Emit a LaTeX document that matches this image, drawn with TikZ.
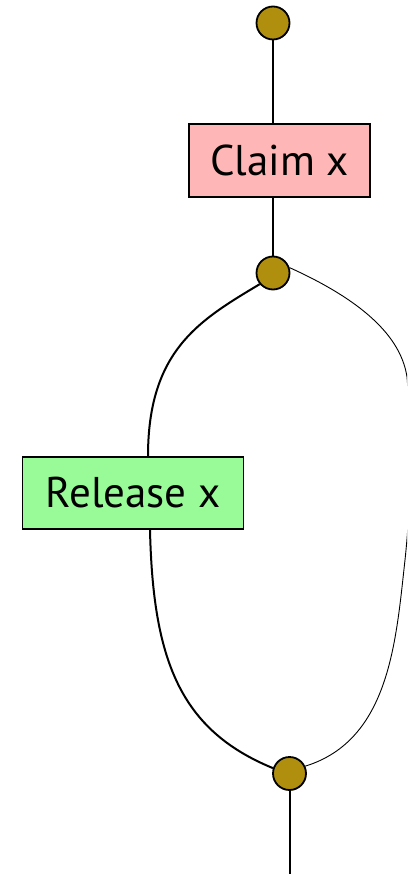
\documentclass[tikz,border=0pt]{standalone}
\usepackage{fontspec}
\setmainfont{PT Sans}
\definecolor{dotfill}{RGB}{176,142,14}
\definecolor{claimfill}{RGB}{255,182,182}
\definecolor{releasefill}{RGB}{152,251,152}
\begin{document}
\begin{tikzpicture}[x=1pt,y=-1pt,
  dot/.style={circle,draw=black,line width=1.8pt,fill=dotfill,minimum size=33pt,inner sep=0pt},
  opbox/.style={draw=black,line width=1.8pt,inner sep=0pt,font=\fontsize{43}{49}\selectfont},
  wire/.style={line width=2pt},
  thinwire/.style={line width=0.9pt}]
\useasboundingbox (0,0) rectangle (407,874);
\clip (0,0) rectangle (407,874);
% junctions and operations
\node[dot] (top) at (273,23) {};
\node[opbox,fill=claimfill,minimum width=181pt,minimum height=73pt] (claim) at (279.5,160.5) {Claim x};
\node[dot] (mid) at (273,273) {};
\node[opbox,fill=releasefill,minimum width=221pt,minimum height=72pt] (rel) at (133,493) {Release x};
\node[dot] (bot) at (289.5,773.5) {};
\coordinate (out) at (289.5,874);
% straight wires
\draw[wire] (top) -- (top |- claim.north);
\draw[wire] (mid |- claim.south) -- (mid);
\draw[wire] (bot) -- (out);
% left branch through the release
\draw[wire] (mid.220) .. controls (200,320) and (148,350) .. ([xshift=15pt]rel.north);
\draw[wire] ([xshift=17pt]rel.south) .. controls (153,660) and (180,730) .. (bot.162);
% right bypass branch
\draw[thinwire] (mid.18) .. controls (350,295) and (400,330) .. (407,377)
  .. controls (412,438) and (411,504) .. (405,560)
  .. controls (396,640) and (390,740) .. (bot.25);
\end{tikzpicture}
\end{document}
